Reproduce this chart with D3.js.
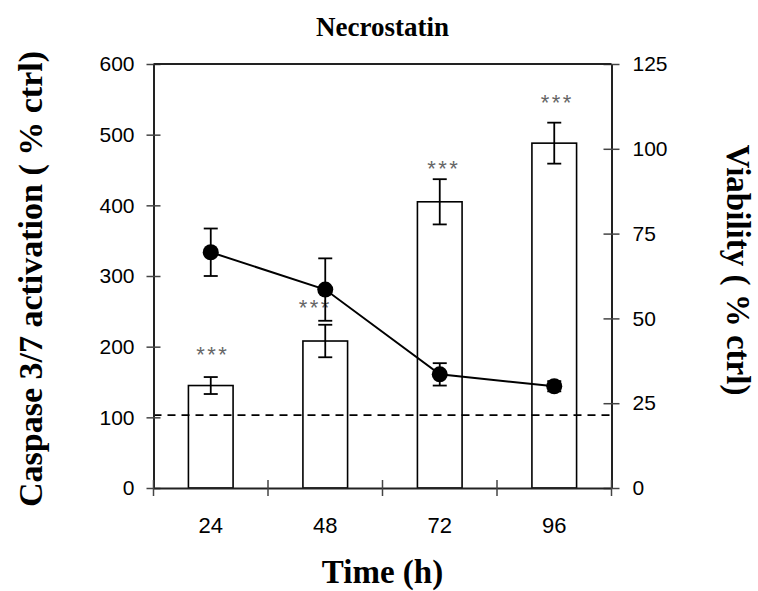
<!DOCTYPE html>
<html>
<head>
<meta charset="utf-8">
<script src="https://cdn.jsdelivr.net/npm/d3@7"></script>
<style>
  body { margin: 0; background: #fff; }
  svg { display: block; }
</style>
</head>
<body>
<div id="chart"></div>
<script>
// DATA
// Time points (h)
var hours = ["24", "48", "72", "96"];

// Caspase 3/7 activation (% ctrl), bars, left axis
var caspase = [145, 208, 405, 488],
    caspaseErr = [12, 23, 32, 29];

// Viability (% ctrl), line, right axis
var viability = [69.5, 58.5, 33.5, 30],
    viabilityErr = [7, 9.2, 3.3, 1.5];

// Significance marks ("***"), left-axis height of their centre
var sigMarks = ["***", "***", "***", "***"],
    sigLevel = [197, 264, 460, 554],
    sigShift = [2, -10, 4, 3];

// Control level (dashed line, left axis)
var ctrlLevel = 103;

// Tick values
var leftTicks = [0, 100, 200, 300, 400, 500, 600],
    rightTicks = [0, 25, 50, 75, 100, 125];

// LAYOUT
var width = 758,
    height = 591,
    plotLeft = 153.5,
    plotRight = 611.5,
    plotTop = 64,
    plotBottom = 488;

var svg = d3.select("#chart").append("svg")
    .attr("width", width)
    .attr("height", height);

var x = d3.scaleBand()
    .domain(hours)
    .range([plotLeft, plotRight])
    .padding(0);

var yL = d3.scaleLinear().domain([0, 600]).range([plotBottom, plotTop]);
var yR = d3.scaleLinear().domain([0, 125]).range([plotBottom, plotTop]);

var barW = x.bandwidth() * 0.39,
    capW = 14;

function cx(d, i) { return x(hours[i]) + x.bandwidth() / 2; }

// Bars
svg.append("g").selectAll("rect")
    .data(caspase)
  .enter().append("rect")
    .attr("x", function(d, i) { return cx(d, i) - barW / 2; })
    .attr("y", function(d) { return yL(d); })
    .attr("width", barW)
    .attr("height", function(d) { return yL(0) - yL(d); })
    .attr("fill", "#fff")
    .attr("stroke", "#000")
    .attr("stroke-width", 1.6);

// Control dashed line
svg.append("line")
    .attr("x1", plotLeft).attr("x2", plotRight)
    .attr("y1", yL(ctrlLevel)).attr("y2", yL(ctrlLevel))
    .attr("stroke", "#000")
    .attr("stroke-width", 1.8)
    .attr("stroke-dasharray", "8,6");

// Error bars helper
function errorBars(vals, errs, scale) {
    var g = svg.append("g").attr("stroke", "#000").attr("stroke-width", 1.8);
    vals.forEach(function(v, i) {
        var c = cx(v, i);
        g.append("line").attr("x1", c).attr("x2", c)
            .attr("y1", scale(v - errs[i])).attr("y2", scale(v + errs[i]));
        [v - errs[i], v + errs[i]].forEach(function(e) {
            g.append("line").attr("x1", c - capW / 2).attr("x2", c + capW / 2)
                .attr("y1", scale(e)).attr("y2", scale(e));
        });
    });
}

errorBars(caspase, caspaseErr, yL);

// Significance marks
svg.append("g").selectAll("text")
    .data(sigMarks)
  .enter().append("text")
    .attr("x", function(d, i) { return cx(d, i) + sigShift[i]; })
    .attr("y", function(d, i) { return yL(sigLevel[i]); })
    .attr("dy", "0.6em")
    .attr("text-anchor", "middle")
    .style("font-family", "'Liberation Sans', Arial, sans-serif")
    .style("font-size", "22px")
    .style("letter-spacing", "2.5px")
    .attr("fill", "#666")
    .text(function(d) { return d; });

// Viability line
var line = d3.line()
    .x(function(d, i) { return cx(d, i); })
    .y(function(d) { return yR(d); });

svg.append("path")
    .datum(viability)
    .attr("d", line)
    .attr("fill", "none")
    .attr("stroke", "#000")
    .attr("stroke-width", 2);

errorBars(viability, viabilityErr, yR);

svg.append("g").selectAll("circle")
    .data(viability)
  .enter().append("circle")
    .attr("cx", cx)
    .attr("cy", function(d) { return yR(d); })
    .attr("r", 8)
    .attr("fill", "#000");

// AXES
var tickFont = "'Liberation Sans', Arial, sans-serif";

var leftAxis = svg.append("g")
    .attr("transform", "translate(" + plotLeft + ",0)")
    .call(d3.axisLeft(yL).tickValues(leftTicks).tickSizeInner(7).tickSizeOuter(0).tickPadding(12));
leftAxis.selectAll(".tick line").attr("x1", 7);

var rightAxis = svg.append("g")
    .attr("transform", "translate(" + plotRight + ",0)")
    .call(d3.axisRight(yR).tickValues(rightTicks).tickSizeInner(8).tickSizeOuter(0).tickPadding(13));
rightAxis.selectAll(".tick line").attr("x1", -8);

var bottomAxis = svg.append("g")
    .attr("transform", "translate(0," + plotBottom + ")")
    .call(d3.axisBottom(x).tickSize(0).tickPadding(29));

// Category boundary ticks
var edges = hours.map(function(h) { return x(h); }).concat([plotRight]);
bottomAxis.selectAll(".edge")
    .data(edges)
  .enter().append("line")
    .attr("class", "edge")
    .attr("x1", function(d) { return d; }).attr("x2", function(d) { return d; })
    .attr("y1", -8).attr("y2", 8);

[leftAxis, rightAxis, bottomAxis].forEach(function(a) {
    a.select(".domain").attr("stroke", "#222").attr("stroke-width", 2);
    a.selectAll("line").attr("stroke", "#444").attr("stroke-width", 1.5);
    a.selectAll("text")
        .style("font-family", tickFont)
        .style("font-size", "21px")
        .attr("fill", "#000");
});
bottomAxis.selectAll("text").style("font-size", "22px");

// Top frame line
svg.append("line")
    .attr("x1", plotLeft).attr("x2", plotRight)
    .attr("y1", plotTop).attr("y2", plotTop)
    .attr("stroke", "#222")
    .attr("stroke-width", 2);

// TITLES
var titleFont = "'Liberation Serif', 'Times New Roman', serif";

svg.append("text")
    .attr("x", (plotLeft + plotRight) / 2)
    .attr("y", 36)
    .attr("text-anchor", "middle")
    .style("font-family", titleFont)
    .style("font-weight", "bold")
    .style("font-size", "27px")
    .text("Necrostatin");

svg.append("text")
    .attr("x", (plotLeft + plotRight) / 2)
    .attr("y", 583)
    .attr("text-anchor", "middle")
    .style("font-family", titleFont)
    .style("font-weight", "bold")
    .style("font-size", "33px")
    .text("Time (h)");

svg.append("text")
    .attr("transform", "translate(30,279) rotate(-90)")
    .attr("dy", "0.35em")
    .attr("text-anchor", "middle")
    .style("font-family", titleFont)
    .style("font-weight", "bold")
    .style("font-size", "34px")
    .text("Caspase 3/7 activation ( % ctrl)");

svg.append("text")
    .attr("transform", "translate(739,270) rotate(90)")
    .attr("dy", "0.35em")
    .attr("text-anchor", "middle")
    .style("font-family", titleFont)
    .style("font-weight", "bold")
    .style("font-size", "33px")
    .text("Viability ( % ctrl)");
</script>
</body>
</html>
